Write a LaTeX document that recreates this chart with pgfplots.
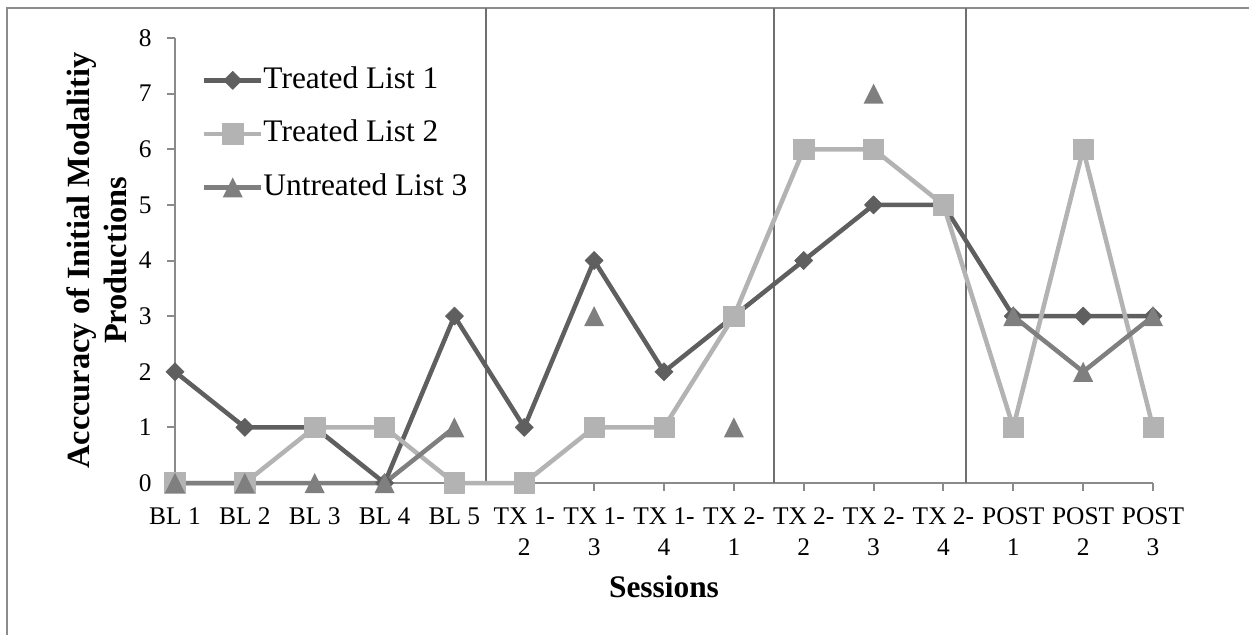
\documentclass[border=0pt]{standalone}
\usepackage{fontspec}
\setmainfont{Liberation Serif}
\usepackage{pgfplots}
\pgfplotsset{compat=1.18}
\definecolor{cA}{HTML}{5F5F5F}
\definecolor{cB}{HTML}{B3B3B3}
\definecolor{cC}{HTML}{7F7F7F}
\definecolor{axc}{HTML}{8A8A8A}
\definecolor{sepc}{HTML}{6F6F6F}
\definecolor{framec}{HTML}{8C8C8C}
\pgfdeclareplotmark{xtri}{%
  \pgfpathmoveto{\pgfqpoint{0pt}{\pgfplotmarksize}}%
  \pgfpathlineto{\pgfqpoint{\pgfplotmarksize}{-\pgfplotmarksize}}%
  \pgfpathlineto{\pgfqpoint{-\pgfplotmarksize}{-\pgfplotmarksize}}%
  \pgfpathclose\pgfusepathqfill}
\begin{document}
\begin{tikzpicture}
\useasboundingbox (-87.5bp,-76bp) rectangle (537bp,241.5bp);
\draw[framec, line width=1bp] (-83.75bp,-76bp) -- (-83.75bp,237.5bp) -- (537bp,237.5bp);
\begin{axis}[
  at={(0,0)}, anchor=south west,
  scale only axis, width=489bp, height=222.5bp,
  xmin=0, xmax=14, ymin=0, ymax=8,
  clip=false,
  axis lines=left,
  axis line style={-, axc, line width=1bp},
  tick align=outside, major tick length=4bp,
  tick style={axc, line width=1bp},
  xtick={0,...,14},
  xticklabels={BL 1, BL 2, BL 3, BL 4, BL 5, {TX 1-\\2}, {TX 1-\\3}, {TX 1-\\4}, {TX 2-\\1}, {TX 2-\\2}, {TX 2-\\3}, {TX 2-\\4}, {POST\\1}, {POST\\2}, {POST\\3}},
  ytick={0,...,8},
  /pgf/number format/assume math mode=true,
  xticklabel style={font=\fontsize{12.75}{15.5}\selectfont, align=center, inner sep=0pt, anchor=north, yshift=-8bp},
  yticklabel style={font=\fontsize{12.75}{15}\selectfont, inner sep=0pt, anchor=east, xshift=-7.5bp},
  unbounded coords=jump,
  xlabel={Sessions},
  every axis x label/.style={at={(axis description cs:0.5,0)}, anchor=base, yshift=-57bp, font=\bfseries\fontsize{15.75}{16}\selectfont},
  ylabel={Acccuracy of Initial Modalitiy\\Productions},
  every axis y label/.style={at={(axis description cs:0,0.5)}, xshift=-24bp, rotate=90, anchor=south, align=center, inner sep=0pt, font=\bfseries\fontsize{16.25}{18.5}\selectfont},
  legend image code/.code={\draw[mark repeat=2,mark phase=2,#1] plot coordinates {(0bp,0bp) (14.25bp,0bp) (28.5bp,0bp)};},
  legend cell align=left,
  legend style={draw=none, fill=none, inner sep=0pt, outer sep=0pt, anchor=north west,
    at={(axis description cs:0.0276,0.9385)},
    font=\fontsize{15.75}{18}\selectfont, row sep=11.75bp, column sep=0bp,
    nodes={inner sep=0pt, text height=11.5bp, text depth=3.5bp}},
]
\draw[sepc, line width=0.7bp] (axis cs:4.452,0) -- (axis cs:4.452,8.539);
\draw[sepc, line width=0.7bp] (axis cs:8.574,0) -- (axis cs:8.574,8.539);
\draw[sepc, line width=0.7bp] (axis cs:11.323,0) -- (axis cs:11.323,8.539);

\addplot[cA, line width=2.25bp, line join=round, mark=square*, mark size=3.2bp,
  mark options={solid, rotate=45, fill=cA, draw=cA, line width=0.3bp}]
  coordinates {(0,2) (1,1) (2,1) (3,0) (4,3) (5,1) (6,4) (7,2) (8,3) (9,4) (10,5) (11,5) (12,3) (13,3) (14,3)};
\addlegendentry{Treated List 1}
\addplot[cB, line width=2.25bp, line join=round, mark=square*, mark size=5.1bp,
  mark options={solid, fill=cB, draw=cB, line width=0.3bp}]
  coordinates {(0,0) (1,0) (2,1) (3,1) (4,0) (5,0) (6,1) (7,1) (8,3) (9,6) (10,6) (11,5) (12,1) (13,6) (14,1)};
\addlegendentry{Treated List 2}
\addplot[cC, line width=2.25bp, line join=round, mark=xtri, mark size=5bp,
  mark options={solid, fill=cC}]
  coordinates {(0,0) (1,0) (2,0) (3,0) (4,1) (5,nan) (6,3) (7,nan) (8,1) (9,nan) (10,7) (11,nan) (12,3) (13,2) (14,3)};
\addlegendentry{Untreated List 3}
\end{axis}
\end{tikzpicture}
\end{document}
